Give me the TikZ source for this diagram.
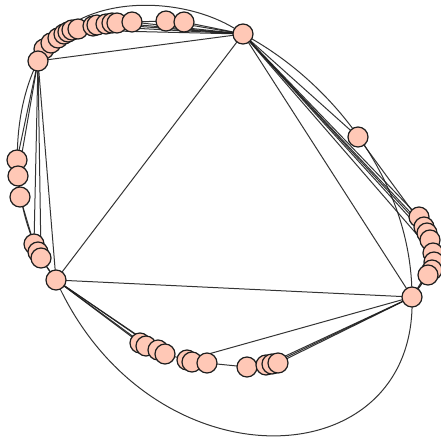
\documentclass[tikz,border=0pt]{standalone}
\definecolor{leaffill}{RGB}{255,200,182}
\definecolor{edgecol}{RGB}{30,30,30}
\tikzset{
  vtx/.style={circle,draw=edgecol,fill=leaffill,line width=1.2pt,minimum size=20pt,inner sep=0pt,outer sep=0pt},
  edge/.style={draw=edgecol,line width=1pt,draw opacity=0.9},
}
\begin{document}
\begin{tikzpicture}[x=1pt,y=-1pt]
\useasboundingbox (0,0) rectangle (441,445);
% hubs
\coordinate (A) at (243,34);
\coordinate (B) at (38,61);
\coordinate (C) at (56,280);
\coordinate (D) at (412,297);
% top leaves
\foreach \n/\x/\y in {1/44/49,2/51/43,3/58/38,4/64/34,5/68/32,6/72/30,7/78/29,8/93/26,9/97/25,10/106/24,11/112/23,12/117/23,13/132/22,14/166/21,15/184/22}
  \coordinate (T\n) at (\x,\y);
% left leaves
\foreach \n/\x/\y in {1/17/160,2/18/176,3/20/197,4/34/244,5/38/252,6/41/258}
  \coordinate (L\n) at (\x,\y);
% right leaves
\foreach \n/\x/\y in {1/419/217,2/424/227,3/427/233,4/430/240,5/433/253,6/434/262,7/432/270,8/428/275}
  \coordinate (R\n) at (\x,\y);
\coordinate (S) at (358,137);
% bottom leaves
\foreach \n/\x/\y in {1/140/343,2/146/346,3/158/350,4/165/354,5/187/360,6/192/362,7/207/363,8/247/367,9/266/365,10/272/364,11/278/363}
  \coordinate (M\n) at (\x,\y);

% ---- edges ----
% curves
\draw[edge] (A) .. controls (185,-8) and (70,-8) .. (B);
\draw[edge] (B) .. controls (8,120) and (8,220) .. (C);
\draw[edge] (A) .. controls (330,80) and (412,180) .. (D) .. controls (418,480) and (150,490) .. (C);
% hub edges
\draw[edge] (A) -- (B);
\draw[edge] (A) -- (C);
\draw[edge] (A) -- (D);
\draw[edge] (C) -- (D);
\draw[edge] (B) -- (C);
% top
\draw[edge] (B) -- (T1) -- (T2) -- (T3) -- (T4) -- (T5) -- (T6) -- (T7) -- (T8) -- (T9) -- (T10) -- (T11) -- (T12) -- (T13) -- (T14) -- (T15);
\foreach \n in {6,8,10,12,13,14,15} \draw[edge] (A) -- (T\n);
% left
\draw[edge] (B) -- (L1) -- (L2) -- (L3) -- (L4) -- (L5) -- (L6) -- (C);
\draw[edge] (B) -- (L4);
\draw[edge] (B) -- (L6);
\draw[edge] (B) -- (L2);
% right
\foreach \n in {1,2,3,4,5} \draw[edge] (A) -- (R\n);
\draw[edge] (A) -- (S) -- (R2);
\draw[edge] (R1) -- (R2) -- (R3) -- (R4) -- (R5) -- (R6) -- (R7) -- (R8) -- (D);
\draw[edge] (R6) -- (D);
\draw[edge] (R7) -- (D);
% bottom
\foreach \n in {1,2,3,4} \draw[edge] (C) -- (M\n);
\draw[edge] (M1) -- (M2) -- (M3) -- (M4) -- (M5) -- (M6) -- (M7) -- (M8) -- (M9) -- (M10) -- (M11);
\draw[edge] (D) -- (M5);
\foreach \n in {9,10,11} \draw[edge] (D) -- (M\n);

% ---- nodes ----
\foreach \n in {1,...,15} \node[vtx] (t\n) at (T\n) {};
\foreach \n in {1,...,6} \node[vtx] (l\n) at (L\n) {};
\foreach \n in {1,...,8} \node[vtx] (r\n) at (R\n) {};
\node[vtx] (s) at (S) {};
\foreach \n in {1,...,11} \node[vtx] (m\n) at (M\n) {};
\node[vtx] (a) at (A) {};
\node[vtx] (b) at (B) {};
\node[vtx] (c) at (C) {};
\node[vtx] (d) at (D) {};
\end{tikzpicture}
\end{document}
